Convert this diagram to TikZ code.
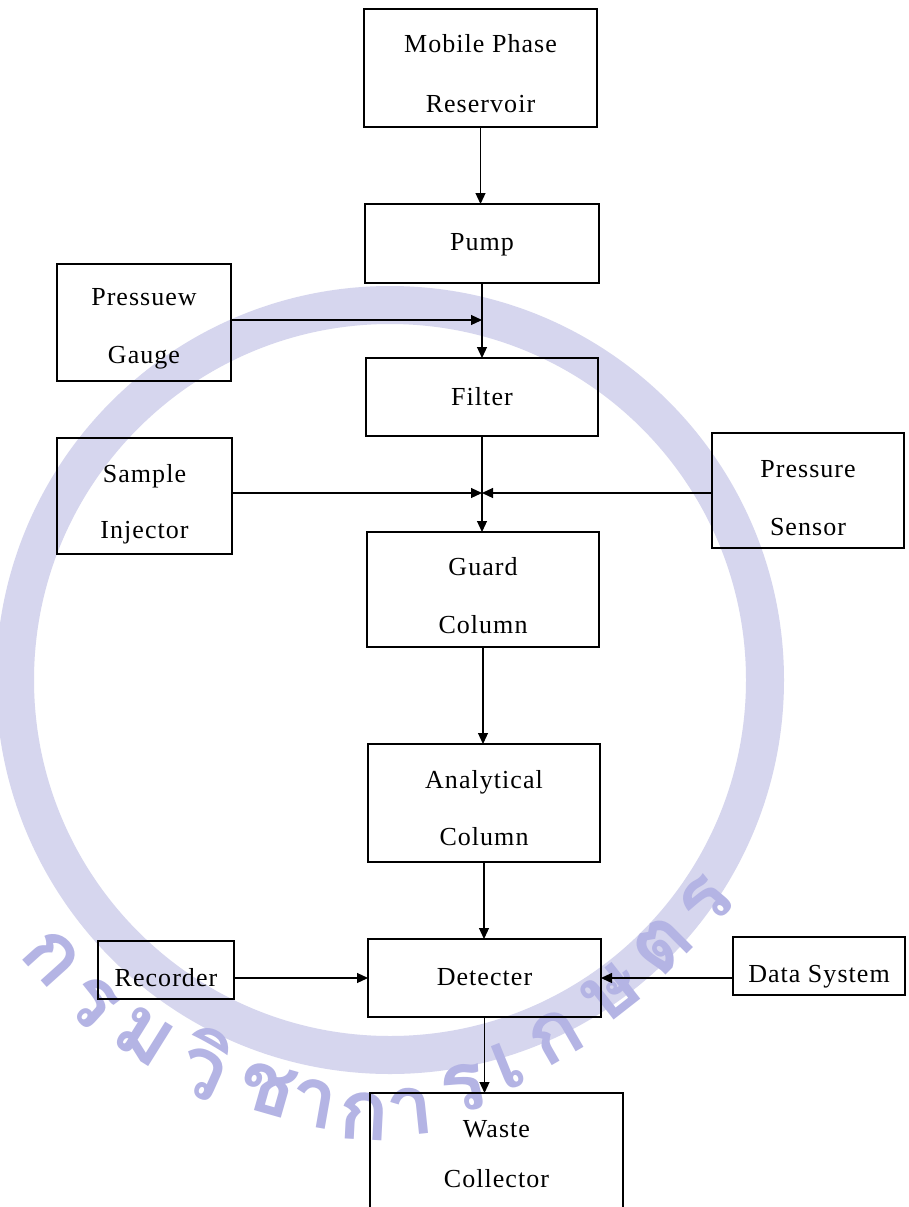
\documentclass[tikz,border=0pt]{standalone}
\usepackage{fontspec}
\setmainfont{Liberation Serif}
\newfontfamily\thaifont[Script=Thai]{Loma}
\usetikzlibrary{arrows.meta}
\definecolor{wmring}{RGB}{214,214,238}
\definecolor{wmtext}{RGB}{180,180,228}
\newcommand\oneln[2]{\raisebox{-#1pt}[\height][\depth]{#2}}
\newcommand\twoln[4]{\raisebox{-#1pt}[\height][\depth]{\begin{tabular}{@{}c@{}}#3\\[#2pt]#4\end{tabular}}}
\begin{document}
\begin{tikzpicture}[x=1pt,y=-1pt,
  box/.style={draw=black,line width=1.7pt,inner sep=0pt,outer sep=0pt,
    font={\fontsize{26}{29}\selectfont\addfontfeature{LetterSpace=4}}},
  conn/.style={draw=black,line width=1.2pt,-{Triangle[length=11pt,width=10pt]}},
  wm/.style={text=wmtext,inner sep=0pt,font={\thaifont\bfseries\fontsize{84}{84}\selectfont}},
  wmr/.style={draw=wmring}]
\useasboundingbox (0,0) rectangle (909,1207);
\clip (0,0) rectangle (909,1207);
\fill[white] (0,0) rectangle (909,1207);
% watermark
\draw[wmr,line width=38pt] (390,680) circle[radius=375];
\foreach \g/\x/\y/\r [count=\i] in {ก/52/958/-48, ร/92/1002/-42, ม/144/1036/-32, วิ/206/1064/-24,
  ช/268/1089/-16, า/314/1103/-10, ก/364/1116/-3, า/410/1112/6, ร/464/1088/14, เ/508/1066/22,
  ก/556/1036/30, ษ/612/992/38, ต/662/946/45, ร/706/902/50}
  \node[wm,rotate=\r] (t\i) at (\x,\y) {\g};
% boxes
\node[box,minimum width=233pt,minimum height=118pt] (res) at (480.5,68) {\twoln{9}{31}{Mobile Phase}{Reservoir}};
\node[box,minimum width=234pt,minimum height=79pt] (pump) at (482,243.5) {\oneln{1.5}{Pump}};
\node[box,minimum width=174pt,minimum height=117pt] (gauge) at (144,322.5) {\twoln{6.5}{29}{Pressuew}{Gauge}};
\node[box,minimum width=232pt,minimum height=78pt] (filter) at (482,397) {\oneln{0}{Filter}};
\node[box,minimum width=175pt,minimum height=116pt] (inj) at (144.5,496) {\twoln{9}{27}{Sample}{Injector}};
\node[box,minimum width=192pt,minimum height=115pt] (sens) at (808,490.5) {\twoln{10.5}{29}{Pressure}{Sensor}};
\node[box,minimum width=232pt,minimum height=115pt] (guard) at (483,589.5) {\twoln{9.5}{29}{Guard}{Column}};
\node[box,minimum width=232pt,minimum height=118pt] (anal) at (484,803) {\twoln{8.5}{28}{Analytical}{Column}};
\node[box,minimum width=136pt,minimum height=58pt] (rec) at (166,970) {\oneln{8}{Recorder}};
\node[box,minimum width=233pt,minimum height=78pt] (det) at (484.5,978) {\oneln{-1}{Detecter}};
\node[box,minimum width=172pt,minimum height=58pt] (data) at (819,966) {\oneln{11}{Data System}};
\node[box,minimum width=253pt,minimum height=132pt] (waste) at (496.5,1159) {\twoln{-2}{21}{Waste}{Collector}};
% connectors
\draw[conn] (res.south) -- (res.south |- pump.north);
\draw[conn] (pump.south) -- (filter.north);
\coordinate (g1) at ([yshift=2.5pt]gauge.east);
\draw[conn] (g1) -- (g1 -| pump.south);
\draw[conn] (filter.south) -- (filter.south |- guard.north);
\coordinate (i1) at ([yshift=3pt]inj.east);
\coordinate (s1) at ([yshift=-2.5pt]sens.west);
\draw[conn] (i1) -- (i1 -| filter.south);
\draw[conn] (s1) -- (s1 -| filter.south);
\draw[conn] (guard.south) -- (guard.south |- anal.north);
\draw[conn] (anal.south) -- (anal.south |- det.north);
\draw[conn] (rec.east |- det.west) -- (det.west);
\draw[conn] (data.west |- det.east) -- (det.east);
\draw[conn] (det.south) -- (det.south |- waste.north);
\end{tikzpicture}
\end{document}
